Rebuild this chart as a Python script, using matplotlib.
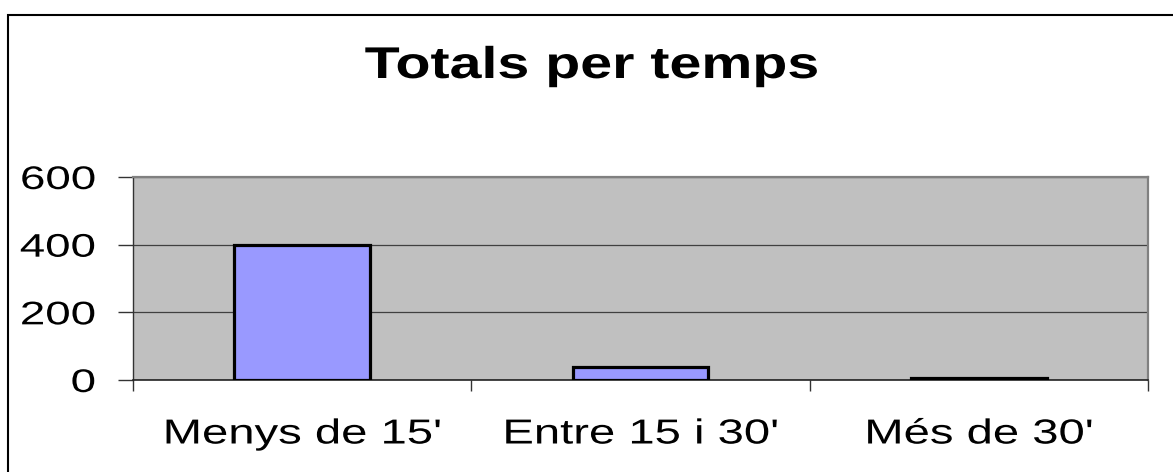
import matplotlib

matplotlib.use("Agg")

import matplotlib.pyplot as plt
from matplotlib import patheffects
from matplotlib.patches import Rectangle
from matplotlib.transforms import Affine2D


categories = ["Menys de 15'", "Entre 15 i 30'", "Més de 30'"]
totals = [400, 37, 5]
y_ticks = [0, 200, 400, 600]
title = "Totals per temps"

W, H = 1173, 472


class StretchX(patheffects.AbstractPathEffect):
    """Widen glyphs horizontally, the source chart was stretched sideways."""

    def __init__(self, sx, anchor="center"):
        super().__init__()
        self.sx = sx
        self.anchor = anchor

    def draw_path(self, renderer, gc, tpath, affine, rgbFace=None):
        xs = tpath.vertices[:, 0]
        if len(xs):
            cx = xs.max() if self.anchor == "right" else (xs.min() + xs.max()) / 2
        else:
            cx = 0
        stretch = Affine2D().translate(-cx, 0).scale(self.sx, 1).translate(cx, 0)
        renderer.draw_path(gc, tpath, stretch + affine, rgbFace)


plt.rcParams["font.family"] = ["Liberation Sans", "DejaVu Sans"]

fig = plt.figure(figsize=(W / 100, H / 100), dpi=100)
fig.patch.set_facecolor("white")

# outer chart border, runs off the right and bottom edges
fig.patches.append(
    Rectangle((8 / W, -0.1), 1.2, 1.1 - 15 / H, transform=fig.transFigure,
              fill=False, edgecolor="black", linewidth=1.5)
)

ax = fig.add_axes([133 / W, 1 - 380 / H, (1148 - 133) / W, (380 - 177) / H])
ax.set_facecolor("#C0C0C0")

x = range(len(categories))
ax.bar(x, totals, width=0.4, color="#9999FF", edgecolor="black", linewidth=2.3, zorder=3)

ax.set_xlim(-0.5, len(categories) - 0.5)
ax.set_ylim(0, 600)

ax.set_yticks(y_ticks)
ax.set_yticklabels([str(t) for t in y_ticks])
ax.tick_params(axis="y", length=11, width=1, color="#333333", pad=16, labelsize=23.5)
ax.yaxis.grid(True, color="#404040", linewidth=0.9, zorder=1)
ax.set_axisbelow(True)

ax.set_xticks([i - 0.5 for i in range(len(categories) + 1)])
ax.set_xticklabels([])
ax.set_xticks(list(x), minor=True)
ax.set_xticklabels(categories, minor=True)
ax.tick_params(axis="x", which="major", length=8, width=1, color="#333333")
ax.tick_params(axis="x", which="minor", length=0, pad=27, labelsize=25)

for side in ("top", "right"):
    ax.spines[side].set_color("#808080")
    ax.spines[side].set_linewidth(1.6)
ax.spines["left"].set_color("#333333")
ax.spines["left"].set_linewidth(1)
ax.spines["bottom"].set_color("#222222")
ax.spines["bottom"].set_linewidth(1.2)

for lbl in ax.get_yticklabels():
    lbl.set_path_effects([StretchX(1.4, anchor="right")])
for lbl in ax.get_xticklabels(minor=True):
    lbl.set_path_effects([StretchX(1.36)])

fig.text(592 / W, 1 - 78 / H, title, ha="center", va="baseline",
         fontsize=32, fontweight="bold",
         path_effects=[StretchX(1.29)])

fig.savefig("out.png", dpi=100)
